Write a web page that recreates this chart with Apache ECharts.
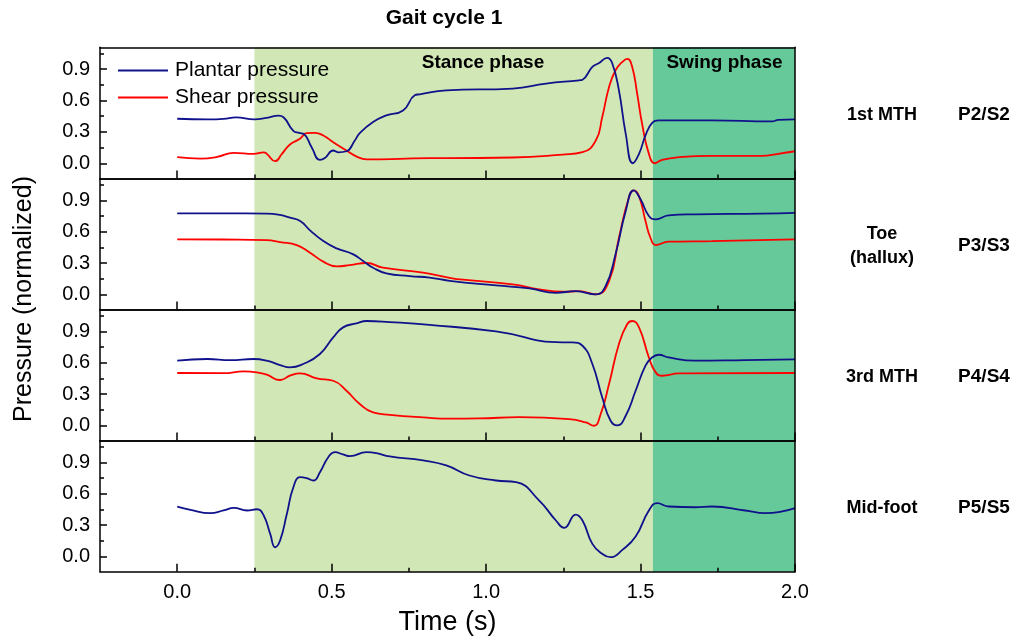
<!DOCTYPE html>
<html>
<head>
<meta charset="utf-8">
<script src="https://cdn.jsdelivr.net/npm/echarts@6/dist/echarts.min.js"></script>
<style>html,body{margin:0;padding:0;background:#fff}#c{width:1017px;height:638px}</style>
</head>
<body>
<div id="c"></div>
<script>
// ---------- data: [time (s), normalized pressure] ----------
const panelNames = ['1st MTH', 'Toe\n(hallux)', '3rd MTH', 'Mid-foot'];
const sensorNames = ['P2/S2', 'P3/S3', 'P4/S4', 'P5/S5'];
const xTickMajor = [0, 0.5, 1.0, 1.5, 2.0];
const xTickMinor = [0.25, 0.75, 1.25, 1.75];
const yTickMajor = [0, 0.3, 0.6, 0.9];
const yTickMinor = [0.15, 0.45, 0.75, 1.05];
const stancePhase = [0.25, 1.54];
const swingPhase = [1.54, 2.0];

const mth1Plantar = [[0,0.426],[0.10,0.42],[0.15,0.425],[0.19,0.44],[0.25,0.42],[0.29,0.435],[0.328,0.455],[0.344,0.44],[0.376,0.31],[0.395,0.29],[0.41,0.28],[0.435,0.154],[0.462,0.033],[0.478,0.05],[0.505,0.122],[0.521,0.105],[0.548,0.115],[0.575,0.218],[0.591,0.288],[0.634,0.394],[0.677,0.458],[0.731,0.506],[0.769,0.65],[0.785,0.66],[0.871,0.698],[1.086,0.715],[1.194,0.763],[1.301,0.794],[1.312,0.80],[1.344,0.922],[1.366,0.96],[1.392,1.009],[1.408,0.96],[1.43,0.698],[1.452,0.282],[1.475,0.0],[1.495,0.09],[1.516,0.266],[1.537,0.384],[1.559,0.41],[1.731,0.41],[1.925,0.40],[1.946,0.415],[2.0,0.42]];
const mth1Shear = [[0,0.058],[0.075,0.045],[0.129,0.06],[0.183,0.10],[0.247,0.09],[0.28,0.105],[0.29,0.09],[0.317,0.02],[0.339,0.09],[0.365,0.18],[0.397,0.234],[0.419,0.288],[0.446,0.29],[0.473,0.266],[0.505,0.202],[0.548,0.122],[0.581,0.064],[0.613,0.038],[0.72,0.042],[0.817,0.05],[0.871,0.05],[1.086,0.055],[1.247,0.083],[1.312,0.106],[1.355,0.218],[1.376,0.442],[1.398,0.73],[1.419,0.89],[1.441,0.97],[1.457,1.0],[1.473,0.922],[1.489,0.667],[1.505,0.378],[1.527,0.09],[1.546,0.0],[1.57,0.033],[1.624,0.058],[1.731,0.07],[1.892,0.07],[1.946,0.09],[2.0,0.115]];
const toePlantar = [[0,0.776],[0.15,0.775],[0.29,0.773],[0.333,0.76],[0.365,0.734],[0.398,0.702],[0.43,0.613],[0.473,0.51],[0.516,0.44],[0.57,0.383],[0.602,0.319],[0.634,0.255],[0.677,0.201],[0.753,0.175],[0.817,0.16],[0.882,0.13],[1.032,0.086],[1.14,0.057],[1.226,0.015],[1.29,0.03],[1.355,0.0],[1.387,0.08],[1.419,0.383],[1.452,0.798],[1.478,0.996],[1.50,0.91],[1.527,0.75],[1.549,0.718],[1.591,0.757],[1.677,0.766],[1.892,0.773],[2.0,0.78]];
const toeShear = [[0,0.527],[0.15,0.525],[0.29,0.52],[0.333,0.50],[0.387,0.472],[0.43,0.399],[0.473,0.313],[0.516,0.268],[0.559,0.28],[0.613,0.30],[0.666,0.255],[0.796,0.207],[0.882,0.158],[0.925,0.14],[1.086,0.096],[1.172,0.048],[1.247,0.025],[1.301,0.03],[1.355,0.0],[1.398,0.127],[1.43,0.542],[1.462,0.925],[1.478,0.996],[1.495,0.94],[1.516,0.702],[1.532,0.542],[1.549,0.472],[1.591,0.504],[1.731,0.51],[2.0,0.527]];
const mth3Plantar = [[0,0.62],[0.097,0.636],[0.172,0.626],[0.247,0.636],[0.29,0.62],[0.333,0.578],[0.365,0.556],[0.408,0.588],[0.462,0.684],[0.505,0.843],[0.537,0.939],[0.58,0.977],[0.613,1.0],[0.688,0.99],[0.817,0.963],[1.032,0.90],[1.247,0.795],[1.279,0.795],[1.312,0.763],[1.344,0.588],[1.376,0.268],[1.403,0.045],[1.425,0.0],[1.452,0.093],[1.484,0.332],[1.516,0.572],[1.537,0.651],[1.559,0.677],[1.591,0.651],[1.677,0.62],[1.839,0.626],[2.0,0.632]];
const mth3Shear = [[0,0.502],[0.15,0.50],[0.215,0.517],[0.258,0.508],[0.29,0.486],[0.333,0.435],[0.365,0.476],[0.398,0.498],[0.452,0.45],[0.505,0.428],[0.548,0.332],[0.591,0.205],[0.634,0.125],[0.688,0.102],[0.796,0.077],[0.882,0.065],[0.978,0.067],[1.107,0.08],[1.269,0.061],[1.323,0.029],[1.349,-0.003],[1.371,0.109],[1.398,0.397],[1.43,0.78],[1.457,0.971],[1.473,1.0],[1.495,0.939],[1.527,0.651],[1.549,0.508],[1.57,0.476],[1.624,0.498],[2.0,0.502]];
const midfootPlantar = [[0,0.479],[0.043,0.447],[0.107,0.415],[0.15,0.441],[0.183,0.466],[0.226,0.441],[0.258,0.453],[0.28,0.393],[0.301,0.217],[0.317,0.089],[0.333,0.153],[0.355,0.409],[0.376,0.664],[0.398,0.76],[0.419,0.75],[0.441,0.728],[0.462,0.807],[0.489,0.951],[0.511,0.999],[0.537,0.977],[0.559,0.961],[0.613,0.999],[0.645,0.99],[0.688,0.958],[0.796,0.92],[0.871,0.872],[0.946,0.776],[1.032,0.728],[1.097,0.712],[1.172,0.536],[1.226,0.345],[1.253,0.275],[1.29,0.402],[1.312,0.345],[1.344,0.121],[1.376,0.026],[1.403,-0.006],[1.441,0.064],[1.484,0.192],[1.527,0.441],[1.554,0.511],[1.591,0.479],[1.677,0.472],[1.731,0.479],[1.839,0.441],[1.903,0.415],[2.0,0.463]];

const panels = [
  {plantar: mth1Plantar, shear: mth1Shear},
  {plantar: toePlantar, shear: toeShear},
  {plantar: mth3Plantar, shear: mth3Shear},
  {plantar: midfootPlantar, shear: null}
];

// ---------- layout / style ----------
const FONT = "'Liberation Sans', Arial, sans-serif";
const BLUE = '#10128c', RED = '#ff0000';
const STANCE = '#d1e7b5', SWING = '#66c999';
const TOP0 = 47.3, PH = 131.1, LEFT = 100, RIGHT = 222;
const YMIN = -0.145, YMAX = 1.11, XMIN = -0.25, XMAX = 2.0;

const chart = echarts.init(document.getElementById('c'), null, {renderer: 'canvas'});
const grid = [], xAxis = [], yAxis = [], series = [], graphic = [];
const axisLine = {show: true, onZero: false, lineStyle: {color: '#000', width: 1.5}};

panels.forEach((p, i) => {
  grid.push({left: LEFT, right: RIGHT, top: TOP0 + PH * i, height: PH, containLabel: false});
  const last = i === panels.length - 1;
  const xBase = xAxis.length;
  xAxis.push({
    type: 'value', gridIndex: i, min: XMIN, max: XMAX, position: 'bottom', z: 10,
    axisLine, splitLine: {show: false},
    axisTick: {show: true, inside: true, length: 8, lineStyle: {color: '#000', width: 1.5}, customValues: xTickMajor},
    axisLabel: {show: last, customValues: xTickMajor, formatter: v => v.toFixed(1), fontSize: 20, color: '#000', fontFamily: FONT, margin: 11},
    name: last ? 'Time (s)' : '', nameLocation: 'middle', nameGap: 37,
    nameTextStyle: {fontSize: 27, color: '#000', fontFamily: FONT}
  });
  xAxis.push({
    type: 'value', gridIndex: i, min: XMIN, max: XMAX, position: 'bottom', z: 10,
    axisLine: {show: false, onZero: false}, splitLine: {show: false},
    axisTick: {show: true, inside: true, length: 4, lineStyle: {color: '#000', width: 1.5}, customValues: xTickMinor},
    axisLabel: {show: false}
  });
  xAxis.push({
    type: 'value', gridIndex: i, min: XMIN, max: XMAX, position: 'top', z: 10,
    axisLine, splitLine: {show: false}, axisTick: {show: false}, axisLabel: {show: false}
  });
  const yBase = yAxis.length;
  yAxis.push({
    type: 'value', gridIndex: i, min: YMIN, max: YMAX, position: 'left', z: 10,
    axisLine, splitLine: {show: false},
    axisTick: {show: true, inside: true, length: 7, lineStyle: {color: '#000', width: 1.5}, customValues: yTickMajor},
    axisLabel: {show: true, customValues: yTickMajor, formatter: v => v.toFixed(1), fontSize: 20, color: '#000', fontFamily: FONT, margin: 10}
  });
  yAxis.push({
    type: 'value', gridIndex: i, min: YMIN, max: YMAX, position: 'left', z: 10,
    axisLine: {show: false, onZero: false}, splitLine: {show: false},
    axisTick: {show: true, inside: true, length: 4, lineStyle: {color: '#000', width: 1.5}, customValues: yTickMinor},
    axisLabel: {show: false}
  });
  yAxis.push({
    type: 'value', gridIndex: i, min: YMIN, max: YMAX, position: 'right', z: 10,
    axisLine, splitLine: {show: false}, axisTick: {show: false}, axisLabel: {show: false}
  });
  // phase shading
  series.push({
    type: 'line', xAxisIndex: xBase, yAxisIndex: yBase, data: [], z: 1, silent: true,
    markArea: {silent: true, itemStyle: {opacity: 1}, data: [
      [{xAxis: stancePhase[0], itemStyle: {color: STANCE}}, {xAxis: stancePhase[1]}],
      [{xAxis: swingPhase[0], itemStyle: {color: SWING}}, {xAxis: swingPhase[1]}]
    ]}
  });
  const lineCommon = {type: 'line', xAxisIndex: xBase, yAxisIndex: yBase, showSymbol: false, symbol: 'none',
    smooth: 0.5, z: 3, animation: false};
  if (p.shear) series.push(Object.assign({}, lineCommon, {name: 'Shear pressure', data: p.shear,
    lineStyle: {color: RED, width: 1.8}, itemStyle: {color: RED}}));
  series.push(Object.assign({}, lineCommon, {name: 'Plantar pressure', data: p.plantar,
    lineStyle: {color: BLUE, width: 1.8}, itemStyle: {color: BLUE}}));

  const cy = TOP0 + PH * (i + 0.5) + 2;
  graphic.push({type: 'text', x: 882, y: cy, z: 20, style: {text: panelNames[i], fill: '#000',
    font: 'bold 18px ' + FONT, fontSize: 18, fontWeight: 'bold', fontFamily: FONT, lineHeight: 24,
    align: 'center', verticalAlign: 'middle', textAlign: 'center', textVerticalAlign: 'middle'}});
  graphic.push({type: 'text', x: 984, y: cy, z: 20, style: {text: sensorNames[i], fill: '#000',
    font: 'bold 19px ' + FONT, fontSize: 19, fontWeight: 'bold', fontFamily: FONT,
    align: 'center', verticalAlign: 'middle', textAlign: 'center', textVerticalAlign: 'middle'}});
});

function label(text, x, y, size, bold, rot) {
  return {type: 'text', x, y, rotation: rot || 0, z: 20, style: {text, fill: '#000',
    font: (bold ? 'bold ' : '') + size + 'px ' + FONT, fontSize: size, fontWeight: bold ? 'bold' : 'normal', fontFamily: FONT,
    align: 'center', verticalAlign: 'middle', textAlign: 'center', textVerticalAlign: 'middle'}};
}
graphic.push(label('Gait cycle 1', 444, 18, 21, true));
graphic.push(label('Stance phase', 483, 63, 19, true));
graphic.push(label('Swing phase', 724.5, 63, 19, true));
graphic.push(label('Pressure (normalized)', 24, 299, 25, false, Math.PI / 2));

chart.setOption({
  animation: false,
  backgroundColor: '#fff',
  textStyle: {fontFamily: FONT},
  grid, xAxis, yAxis, series, graphic,
  legend: {
    show: true, orient: 'vertical', left: 118, top: 60, padding: 0, itemWidth: 50, itemHeight: 2, itemGap: 6,
    icon: 'rect', selectedMode: false,
    data: [{name: 'Plantar pressure', itemStyle: {color: BLUE}}, {name: 'Shear pressure', itemStyle: {color: RED}}],
    textStyle: {fontSize: 21, color: '#000', fontFamily: FONT, padding: [0, 0, 0, 2]}
  }
});
</script>
</body>
</html>
